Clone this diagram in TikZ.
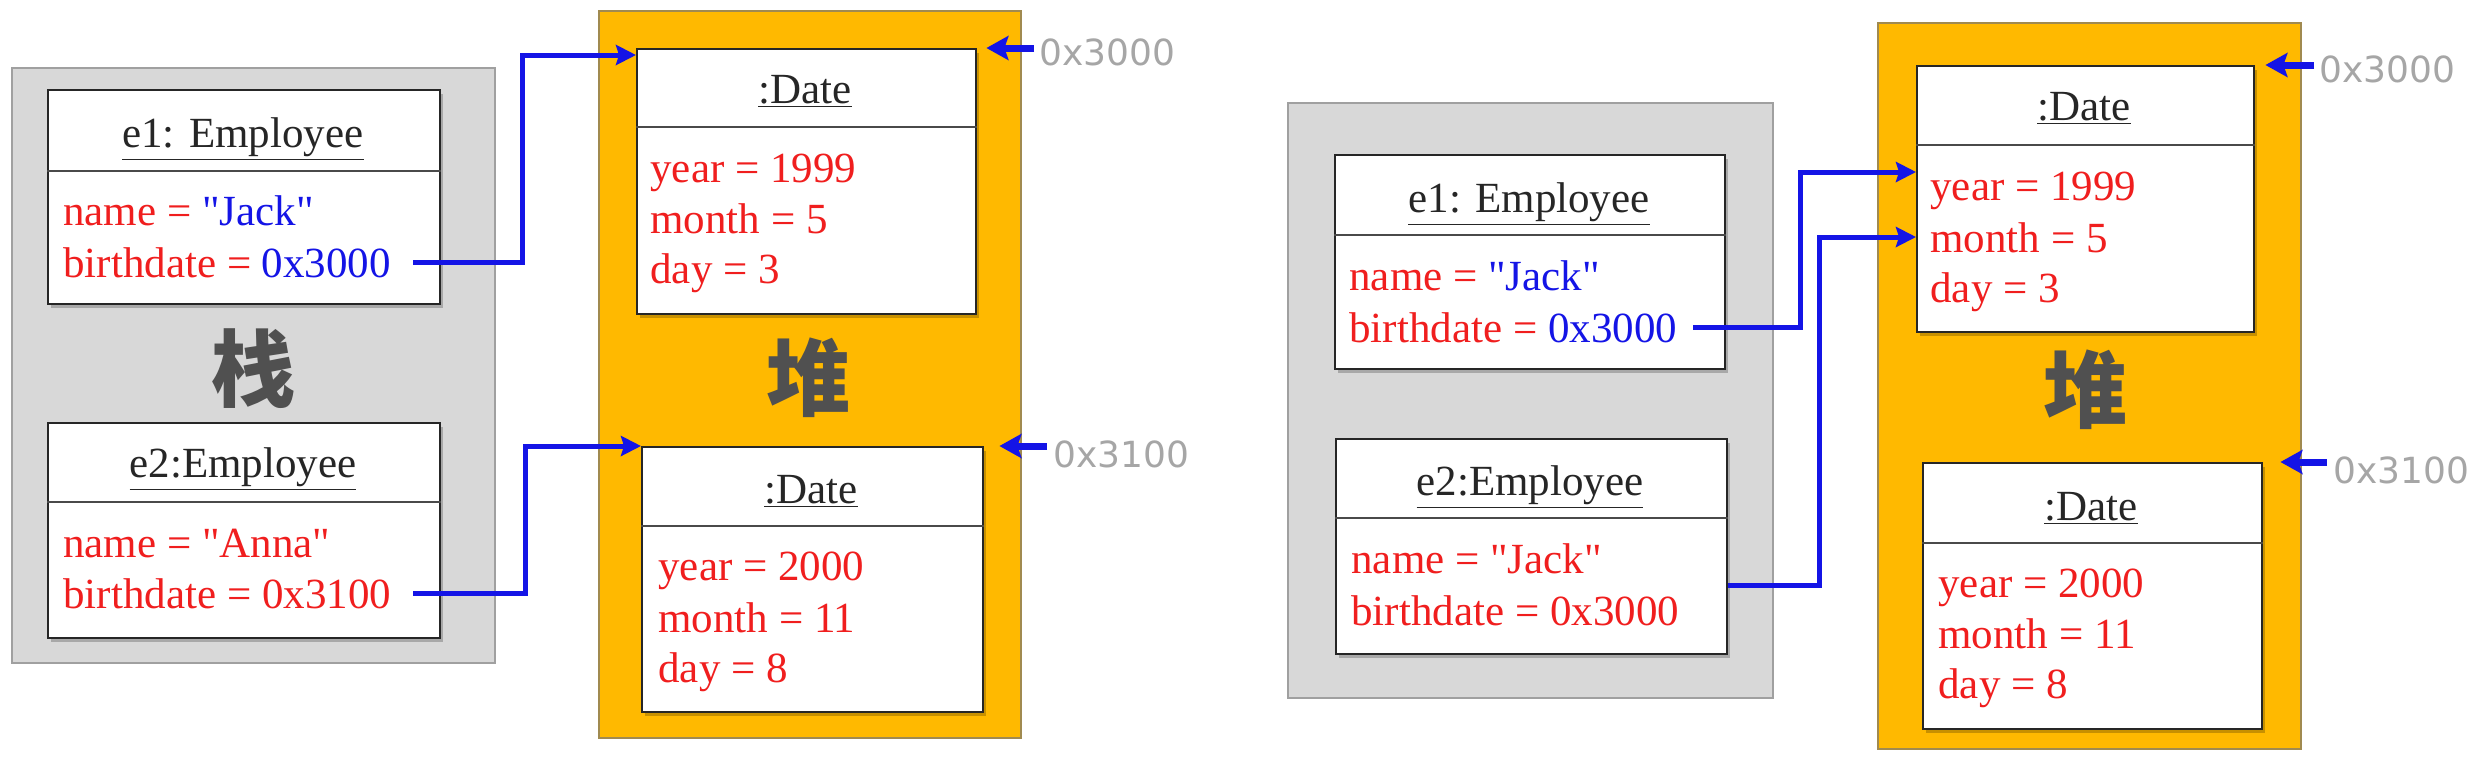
\documentclass[tikz,border=0pt]{standalone}
\usepackage{fontspec}
\setmainfont{Liberation Serif}[Ligatures=TeXOff]
\newfontfamily\addrf{DejaVu Sans}
\newfontfamily\cjk{Noto Sans CJK SC}
\usetikzlibrary{arrows.meta,shadows}
\definecolor{heapc}{HTML}{FFB900}
\definecolor{stackc}{HTML}{D8D8D8}
\definecolor{stackb}{HTML}{A0A0A0}
\definecolor{heapb}{HTML}{A08A50}
\definecolor{attrred}{HTML}{F01E1E}
\definecolor{ptrblue}{HTML}{1414E6}
\definecolor{addrgray}{HTML}{A6A6A6}
\definecolor{titlec}{HTML}{262626}
\definecolor{cjkc}{HTML}{505050}
\definecolor{divc}{HTML}{4A4A4A}
\begin{document}
\begin{tikzpicture}[x=0.5pt,y=-0.5pt,
  stackbox/.style={draw=stackb, line width=1pt, fill=stackc, anchor=north west, inner sep=0},
  heapbox/.style={draw=heapb, line width=1pt, fill=heapc, anchor=north west, inner sep=0},
  objbox/.style={draw=titlec, line width=1.2pt, fill=white, anchor=north west, inner sep=0,
    drop shadow={shadow xshift=1.2pt, shadow yshift=-1.8pt, fill=black, opacity=0.22}},
  divider/.style={draw=divc, line width=1.2pt},
  objtitle/.style={font=\fontsize{21.5}{26}\selectfont, text=titlec, inner sep=0, anchor=base},
  attr/.style={font=\fontsize{21.5}{26}\selectfont, text=attrred, inner sep=0, anchor=base west},
  cjklabel/.style={font=\cjk\bfseries\fontsize{42}{46}\selectfont, text=cjkc, inner sep=0},
  addrlabel/.style={font=\addrf\fontsize{18}{22}\selectfont, text=addrgray, inner sep=0, anchor=base west},
  conn/.style={draw=ptrblue, line width=2.5pt, -{Stealth[length=10pt,width=10pt,inset=1.5pt]}},
  addr/.style={draw=ptrblue, line width=3.5pt, -{Stealth[length=11pt,width=12pt,inset=2pt]}}
]
\useasboundingbox (0,0) rectangle (2476,762);

% ================= LEFT PANEL =================
\node[stackbox, minimum width=241.5pt, minimum height=297.5pt] (stackL) at (11,67) {};
\node[heapbox, minimum width=211pt, minimum height=363.5pt] (heapL) at (598,10) {};

% e1 (left)
\node[objbox, minimum width=196pt, minimum height=107pt] (e1L) at (47,89) {};
\draw[divider] (e1L.west |- 0,171) -- (e1L.east |- 0,171);
\node[objtitle] (e1Lt) at (243,147) {\underline{e1: Employee}};
\node[attr] (e1Ln) at (63,225) {name = \textcolor{ptrblue}{"Jack"}};
\node[attr] (e1Lb) at (63,277) {birthdate = \textcolor{ptrblue}{0x3000}};

% e2 (left)
\node[objbox, minimum width=196pt, minimum height=107.5pt] (e2L) at (47,422) {};
\draw[divider] (e2L.west |- 0,502) -- (e2L.east |- 0,502);
\node[objtitle] (e2Lt) at (243,477) {\underline{e2:Employee}};
\node[attr] (e2Ln) at (63,557) {name = "Anna"};
\node[attr] (e2Lb) at (63,608) {birthdate = 0x3100};

\node[cjklabel] (zhan) at (253,369) {栈};

% date 1 (left)
\node[objbox, minimum width=169.5pt, minimum height=132.5pt] (d1L) at (636,48) {};
\draw[divider] (d1L.west |- 0,127) -- (d1L.east |- 0,127);
\node[objtitle] (d1Lt) at (805,103) {\underline{:Date}};
\node[attr] (d1Ly) at (650,182) {year = 1999};
\node[attr] (d1Lm) at (650,233) {month = 5};
\node[attr] (d1Ld) at (650,283) {day = 3};

\node[cjklabel] (duiL) at (808,378) {堆};

% date 2 (left)
\node[objbox, minimum width=170.5pt, minimum height=132.5pt] (d2L) at (641,446) {};
\draw[divider] (d2L.west |- 0,526) -- (d2L.east |- 0,526);
\node[objtitle] (d2Lt) at (811,503) {\underline{:Date}};
\node[attr] (d2Ly) at (658,580) {year = 2000};
\node[attr] (d2Lm) at (658,632) {month = 11};
\node[attr] (d2Ld) at (658,682) {day = 8};

% address labels (left)
\node[addrlabel] (aL1) at (1039,65) {0x3000};
\node[addrlabel] (aL2) at (1053,467) {0x3100};
\draw[addr] ([xshift=-2.5pt]aL1.west |- d1L.north east) -- ([xshift=4.5pt]d1L.north east);
\draw[addr] ([xshift=-3pt]aL2.west |- d2L.north east) -- ([xshift=7.5pt]d2L.north east);

% connectors (left)
\coordinate (sL1) at ([xshift=11pt]e1Lb.east);
\coordinate (tL1) at ([yshift=-3.5pt]d1L.north west);
\draw[conn] (sL1) -- (522,0 |- sL1) |- (tL1);
\coordinate (sL2) at ([xshift=11pt]e2Lb.east);
\coordinate (tL2) at (d2L.north west);
\draw[conn] (sL2) -- (525,0 |- sL2) |- (tL2);

% ================= RIGHT PANEL =================
\node[stackbox, minimum width=242.5pt, minimum height=297.5pt] (stackR) at (1287,102) {};
\node[heapbox, minimum width=211.5pt, minimum height=363pt] (heapR) at (1877,22) {};

% e1 (right)
\node[objbox, minimum width=195pt, minimum height=107pt] (e1R) at (1334,154) {};
\draw[divider] (e1R.west |- 0,235) -- (e1R.east |- 0,235);
\node[objtitle] (e1Rt) at (1529,212) {\underline{e1: Employee}};
\node[attr] (e1Rn) at (1349,290) {name = \textcolor{ptrblue}{"Jack"}};
\node[attr] (e1Rb) at (1349,342) {birthdate = \textcolor{ptrblue}{0x3000}};

% e2 (right)
\node[objbox, minimum width=195.5pt, minimum height=107.5pt] (e2R) at (1335,438) {};
\draw[divider] (e2R.west |- 0,518) -- (e2R.east |- 0,518);
\node[objtitle] (e2Rt) at (1530,495) {\underline{e2:Employee}};
\node[attr] (e2Rn) at (1351,573) {name = "Jack"};
\node[attr] (e2Rb) at (1351,625) {birthdate = 0x3000};

% date 1 (right)
\node[objbox, minimum width=168.5pt, minimum height=133pt] (d1R) at (1916,65) {};
\draw[divider] (d1R.west |- 0,145) -- (d1R.east |- 0,145);
\node[objtitle] (d1Rt) at (2084,120) {\underline{:Date}};
\node[attr] (d1Ry) at (1930,200) {year = 1999};
\node[attr] (d1Rm) at (1930,252) {month = 5};
\node[attr] (d1Rd) at (1930,302) {day = 3};

\node[cjklabel] (duiR) at (2085,390) {堆};

% date 2 (right)
\node[objbox, minimum width=169.5pt, minimum height=133pt] (d2R) at (1922,462) {};
\draw[divider] (d2R.west |- 0,543) -- (d2R.east |- 0,543);
\node[objtitle] (d2Rt) at (2091,520) {\underline{:Date}};
\node[attr] (d2Ry) at (1938,597) {year = 2000};
\node[attr] (d2Rm) at (1938,648) {month = 11};
\node[attr] (d2Rd) at (1938,698) {day = 8};

% address labels (right)
\node[addrlabel] (aR1) at (2319,82) {0x3000};
\node[addrlabel] (aR2) at (2333,483) {0x3100};
\draw[addr] ([xshift=-2.5pt]aR1.west |- d1R.north east) -- ([xshift=5pt]d1R.north east);
\draw[addr] ([xshift=-3pt]aR2.west |- d2R.north east) -- ([xshift=8.5pt]d2R.north east);

% connectors (right)
\coordinate (sR1) at ([xshift=8pt]e1Rb.east);
\coordinate (tR1) at ([yshift=-53.5pt]d1R.north west);
\draw[conn] (sR1) -- (1800,0 |- sR1) |- (tR1);
\coordinate (sR2) at ([yshift=-19.25pt]e2R.east);
\coordinate (tR2) at ([yshift=-86pt]d1R.north west);
\draw[conn] (sR2) -- (1819,0 |- sR2) |- (tR2);
\end{tikzpicture}
\end{document}
